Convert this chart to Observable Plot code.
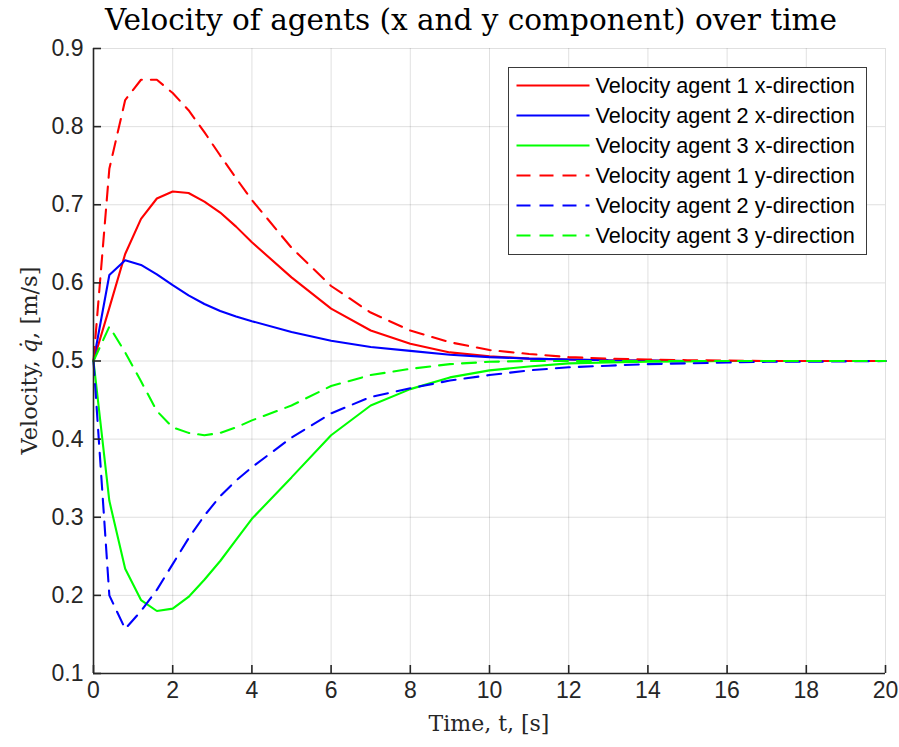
<!DOCTYPE html>
<html>
<head>
<meta charset="utf-8">
<script src="https://cdn.jsdelivr.net/npm/d3@7"></script>
<script src="https://cdn.jsdelivr.net/npm/@observablehq/plot@0.6"></script>
<style>
  body { margin: 0; background: #fff; }
  #chart { width: 899px; height: 747px; }
</style>
</head>
<body>
<div id="chart"></div>
<script>
// ---- data ----
const time = [0, 0.4, 0.8, 1.2, 1.6, 2.0, 2.4, 2.8, 3.2, 3.6, 4, 5, 6, 7, 8, 9, 10, 11, 12, 13, 14, 15, 16, 17, 18, 19, 20];

const agent1x = [0.5, 0.568, 0.637, 0.682, 0.708, 0.717, 0.715, 0.704, 0.690, 0.672, 0.652, 0.607, 0.567, 0.539, 0.522, 0.511, 0.506, 0.503, 0.502, 0.501, 0.5005, 0.5, 0.5, 0.5, 0.5, 0.5, 0.5];
const agent2x = [0.5, 0.610, 0.629, 0.623, 0.611, 0.597, 0.584, 0.573, 0.564, 0.557, 0.551, 0.537, 0.526, 0.518, 0.513, 0.508, 0.505, 0.503, 0.502, 0.501, 0.5005, 0.5, 0.5, 0.5, 0.5, 0.5, 0.5];
const agent3x = [0.5, 0.321, 0.234, 0.194, 0.180, 0.183, 0.198, 0.220, 0.244, 0.271, 0.298, 0.351, 0.405, 0.443, 0.464, 0.479, 0.488, 0.493, 0.497, 0.498, 0.499, 0.4995, 0.5, 0.5, 0.5, 0.5, 0.5];
const agent1y = [0.5, 0.746, 0.834, 0.860, 0.860, 0.843, 0.821, 0.793, 0.763, 0.734, 0.706, 0.645, 0.596, 0.562, 0.539, 0.524, 0.514, 0.509, 0.505, 0.503, 0.502, 0.501, 0.5005, 0.5, 0.5, 0.5, 0.5];
const agent2y = [0.5, 0.200, 0.157, 0.180, 0.207, 0.240, 0.273, 0.302, 0.327, 0.347, 0.364, 0.402, 0.433, 0.454, 0.465, 0.475, 0.482, 0.488, 0.492, 0.494, 0.496, 0.497, 0.498, 0.499, 0.499, 0.4995, 0.5];
const agent3y = [0.5, 0.544, 0.511, 0.474, 0.436, 0.415, 0.408, 0.405, 0.408, 0.415, 0.424, 0.443, 0.468, 0.482, 0.490, 0.496, 0.499, 0.5, 0.5, 0.5, 0.5, 0.5, 0.5, 0.5, 0.5, 0.5, 0.5];

const seriesNames = [
  "Velocity agent 1 x-direction",
  "Velocity agent 2 x-direction",
  "Velocity agent 3 x-direction",
  "Velocity agent 1 y-direction",
  "Velocity agent 2 y-direction",
  "Velocity agent 3 y-direction"
];
const seriesValues = [agent1x, agent2x, agent3x, agent1y, agent2y, agent3y];
const seriesColors = ["#ff0000", "#0000ff", "#00ff00", "#ff0000", "#0000ff", "#00ff00"];
const seriesDashed = [false, false, false, true, true, true];

const xTicks = [0, 2, 4, 6, 8, 10, 12, 14, 16, 18, 20];
const yTicks = [0.1, 0.2, 0.3, 0.4, 0.5, 0.6, 0.7, 0.8, 0.9];
const xDomain = [0, 20];
const yDomain = [0.1, 0.9];

const titleText = "Velocity of agents (x and y component) over time";
const xLabelText = "Time, t, [s]";

// ---- layout ----
const W = 899, H = 747;
const mL = 93, mR = 14, mT = 48, mB = 74;
const plotW = W - mL - mR, plotH = H - mT - mB;
const axisColor = "#262626";
const dash = "14,9";
const sans = "'Liberation Sans', Arial, sans-serif";
const serif = "'DejaVu Serif', 'Liberation Serif', serif";

const lineMarks = seriesValues.map((vals, i) =>
  Plot.line(time.map((t, j) => ({t, v: vals[j]})), {
    x: "t", y: "v",
    stroke: seriesColors[i],
    strokeWidth: 2.1,
    strokeDasharray: seriesDashed[i] ? dash : null,
    strokeLinejoin: "miter"
  })
);

const svg = Plot.plot({
  width: W, height: H,
  marginLeft: mL, marginRight: mR, marginTop: mT, marginBottom: mB,
  style: {fontFamily: sans, fontSize: "23px", color: axisColor, background: "#fff", overflow: "visible"},
  x: {domain: xDomain},
  y: {domain: yDomain},
  marks: [
    Plot.gridX(xTicks, {stroke: axisColor, strokeOpacity: 0.14, strokeWidth: 1}),
    Plot.gridY(yTicks, {stroke: axisColor, strokeOpacity: 0.14, strokeWidth: 1}),
    ...lineMarks,
    Plot.ruleX([xDomain[0]], {stroke: axisColor, strokeWidth: 1.6}),
    Plot.ruleY([yDomain[0]], {stroke: axisColor, strokeWidth: 1.6}),
    Plot.tickX(xTicks, {x: d => d, insetTop: plotH - 8, stroke: axisColor, strokeWidth: 1.6}),
    Plot.tickY(yTicks, {y: d => d, insetRight: plotW - 8, stroke: axisColor, strokeWidth: 1.6}),
    Plot.axisX(xTicks, {tickSize: 0, tickPadding: 8, tickFormat: d => String(d), label: null}),
    Plot.axisY(yTicks, {tickSize: 0, tickPadding: 10, tickFormat: d3.format(".1f"), label: null})
  ]
});
document.getElementById("chart").appendChild(svg);

const s = d3.select(svg);

// title
s.append("text")
  .attr("x", 471).attr("y", 30)
  .attr("text-anchor", "middle")
  .attr("font-family", serif).attr("font-size", 29.5)
  .attr("fill", "#000")
  .text(titleText);

// x label
s.append("text")
  .attr("x", mL + plotW / 2).attr("y", 731)
  .attr("text-anchor", "middle")
  .attr("font-family", serif).attr("font-size", 22)
  .attr("fill", "#262626")
  .text(xLabelText);

// y label with italic q-dot
const yl = s.append("text")
  .attr("transform", `translate(37,${mT + plotH / 2}) rotate(-90)`)
  .attr("text-anchor", "middle")
  .attr("font-family", serif).attr("font-size", 22.5)
  .attr("fill", "#262626");
yl.append("tspan").text("Velocity, ");
yl.append("tspan").attr("font-style", "italic").text("q\u0307");
yl.append("tspan").text(", [m/s]");

// legend
const lg = s.append("g").attr("transform", "translate(508.5,67.5)");
lg.append("rect").attr("width", 358).attr("height", 187)
  .attr("fill", "#fff").attr("stroke", "#3a3a3a").attr("stroke-width", 1);
seriesNames.forEach((name, i) => {
  const cy = 18 + i * 30;
  lg.append("line")
    .attr("x1", 8).attr("x2", 81).attr("y1", cy).attr("y2", cy)
    .attr("stroke", seriesColors[i]).attr("stroke-width", 2.1)
    .attr("stroke-dasharray", seriesDashed[i] ? dash : null);
  lg.append("text")
    .attr("x", 87).attr("y", cy).attr("dy", "0.35em")
    .attr("text-anchor", "start")
    .attr("font-family", sans)
    .attr("font-size", 21.7).attr("fill", "#000")
    .text(name);
});
</script>
</body>
</html>
